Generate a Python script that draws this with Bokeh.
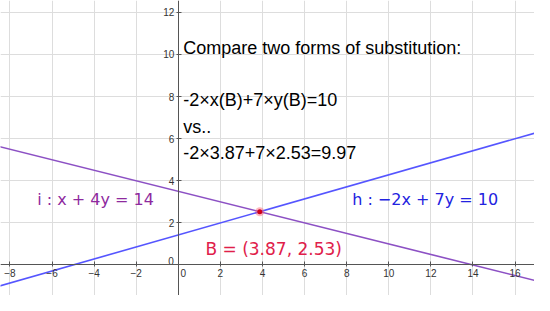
import numpy as np
from bokeh.plotting import figure
from bokeh.models import Range1d, LinearAxis, FixedTicker, Grid, ColumnDataSource
from bokeh.core.properties import value
from bokeh.embed import file_html
from bokeh.resources import INLINE

# ---- data ----
x_ticks = [-8, -6, -4, -2, 0, 2, 4, 6, 8, 10, 12, 14, 16]
y_ticks = [-2, 0, 2, 4, 6, 8, 10, 12]
h_coef = [-2, 7, 10]      # -2x + 7y = 10
i_coef = [1, 4, 14]       # x + 4y = 14
B_point = [3.87, 2.53]
h_label = "h : \u22122x + 7y = 10"
i_label = "i : x + 4y = 14"
B_label = "B = (3.87, 2.53)"
note_lines = ["Compare two forms of substitution:", "",
              "-2\u00d7x(B)+7\u00d7y(B)=10", "vs..",
              "-2\u00d73.87+7\u00d72.53=9.97"]

X0, X1 = -8.447, 16.922
Y0, Y1 = -1.449, 12.565

p = figure(width=534, height=295, x_range=Range1d(X0, X1), y_range=Range1d(Y0, Y1),
           x_axis_type=None, y_axis_type=None, output_backend="svg",
           toolbar_location=None, min_border=0)
p.outline_line_color = None
p.background_fill_color = "white"

# grid
for dim, ticks in ((0, x_ticks), (1, y_ticks)):
    g = Grid(dimension=dim, ticker=FixedTicker(ticks=ticks),
             grid_line_color="#dddddd", grid_line_width=1)
    p.add_layout(g)

axis_style = dict(axis_line_color="#555555", axis_line_width=1,
                  major_tick_line_color="#555555", major_tick_in=3, major_tick_out=2,
                  minor_tick_line_color=None, major_label_standoff=2,
                  major_label_text_font="Liberation Sans",
                  major_label_text_font_size="10px",
                  major_label_text_color="#333333",
                  major_label_overrides={0: ""})
xaxis = LinearAxis(ticker=FixedTicker(ticks=x_ticks), fixed_location=0, **axis_style)
yaxis = LinearAxis(ticker=FixedTicker(ticks=y_ticks), fixed_location=0, **axis_style)
p.add_layout(xaxis, "below")
p.add_layout(yaxis, "left")

# origin labels
p.text(x=[0.233], y=[-0.39], text=["0"], text_align="center", text_baseline="middle",
       text_font=value("Liberation Sans"), text_font_size=value("10px"), text_color="#333333")
p.text(x=[-0.34], y=[0.18], text=["0"], text_align="center", text_baseline="middle",
       text_font=value("Liberation Sans"), text_font_size=value("10px"), text_color="#333333")

# lines
xs = np.array([X0 - 1, X1 + 1])
for (a, b, c), col in ((h_coef, "#5555ff"), (i_coef, "#8c50c4")):
    p.line(xs, (c - a * xs) / b, line_color=col, line_width=1.6)

# point B
p.scatter([B_point[0]], [B_point[1]], size=9, fill_color="#ff6070", fill_alpha=0.45, line_color=None)
p.scatter([B_point[0]], [B_point[1]], size=5, fill_color="#d0001a", line_color=None)

# labels
p.text(x=[-6.70], y=[3.10], text=[i_label], text_font=value("DejaVu Sans"),
       text_font_size=value("16px"), text_color="#8e2a9e", text_baseline="alphabetic")
p.text(x=[8.26], y=[3.11], text=[h_label], text_font=value("DejaVu Sans"),
       text_font_size=value("16px"), text_color="#2222e0", text_baseline="alphabetic")
p.text(x=[1.29], y=[0.76], text=[B_label], text_font=value("DejaVu Sans"),
       text_font_size=value("17px"), text_color="#e0204a", text_baseline="alphabetic")

# note text
top_y, step = 10.32, 1.25
src = ColumnDataSource(dict(x=[0.233] * len(note_lines),
                            y=[top_y - k * step for k in range(len(note_lines))],
                            t=note_lines))
p.text(x="x", y="y", text="t", source=src, text_font=value("Liberation Sans"),
       text_font_size=value("18px"), text_color="#000000", text_baseline="alphabetic")

open("out.html", "w").write(file_html(p, INLINE))
